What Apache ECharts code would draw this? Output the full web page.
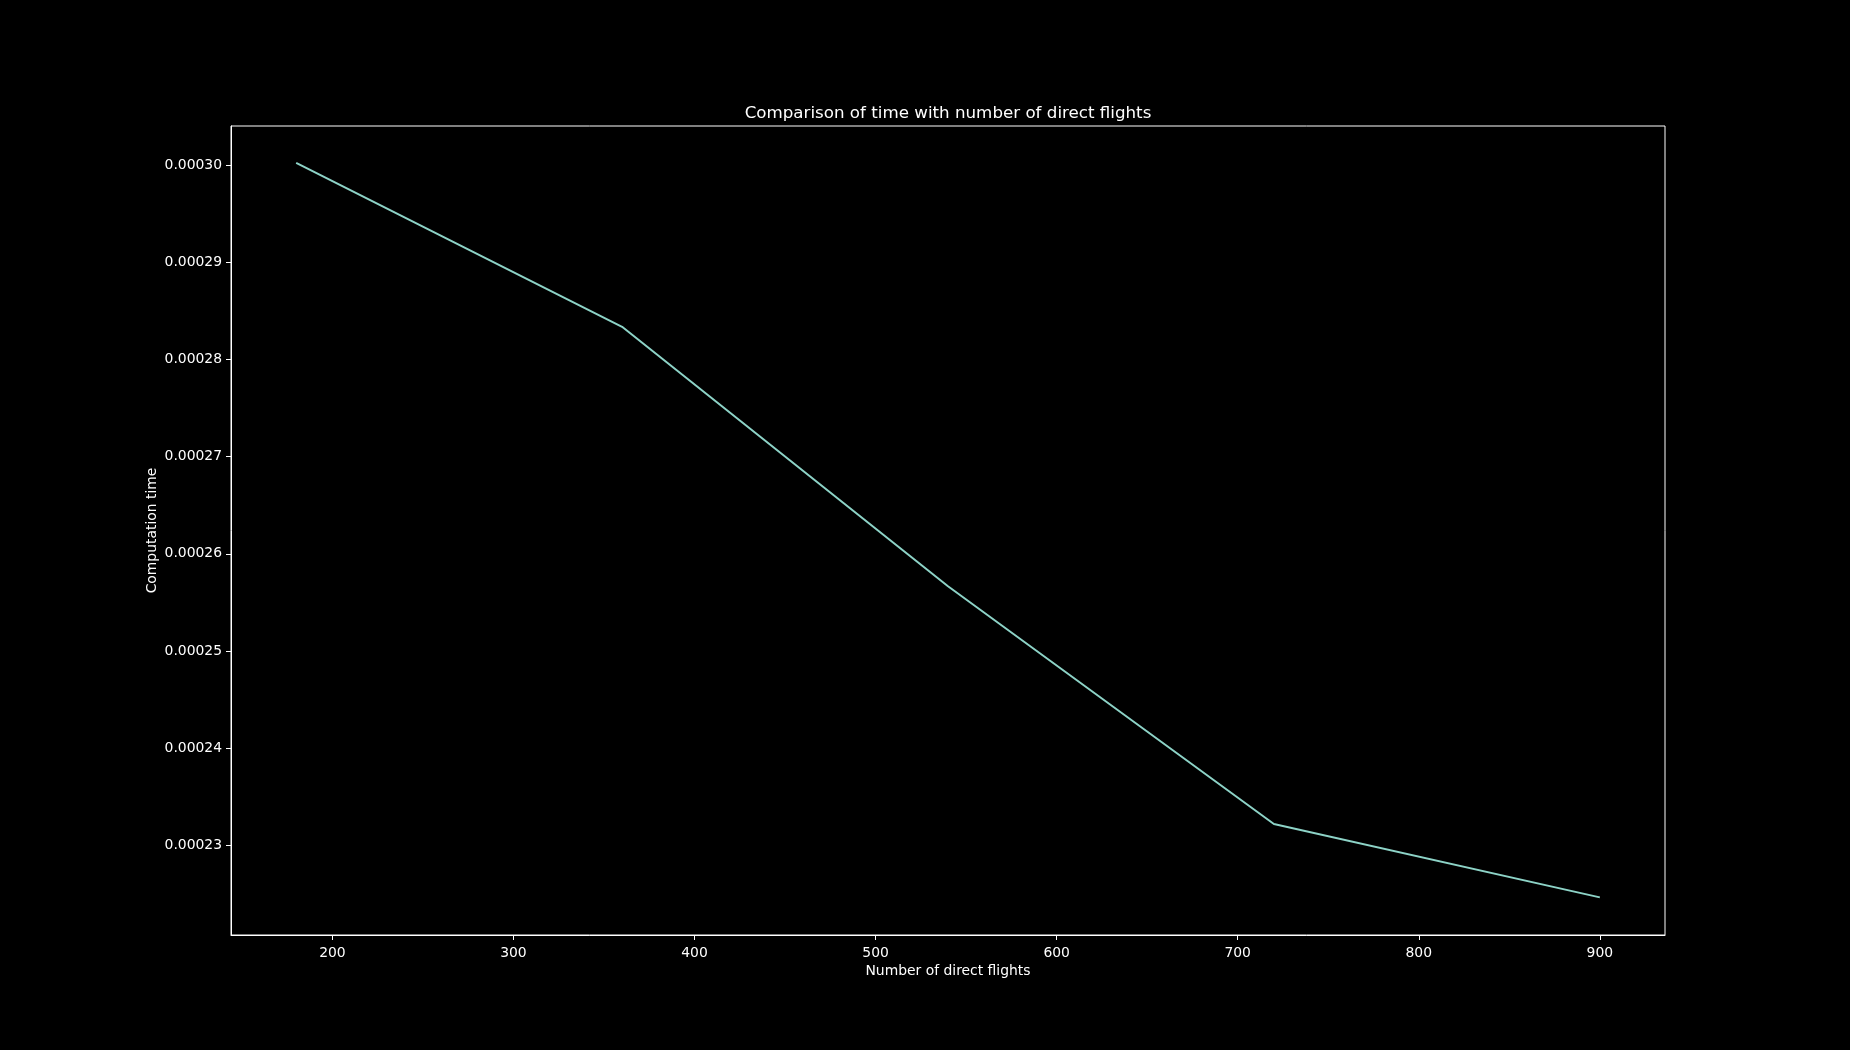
<!DOCTYPE html>
<html>
<head>
<meta charset="utf-8">
<script src="https://cdn.jsdelivr.net/npm/echarts@6/dist/echarts.min.js"></script>
<style>
html,body{margin:0;padding:0;background:#000;}
#chart{width:1850px;height:1050px;}
</style>
</head>
<body>
<div id="chart"></div>
<script>
const flights = [180, 360, 540, 720, 900];
const times = [0.0003002, 0.00028335, 0.00025666, 0.00023221, 0.00022467];
const xTicks = [200, 300, 400, 500, 600, 700, 800, 900];
const yTicks = [0.00023, 0.00024, 0.00025, 0.00026, 0.00027, 0.00028, 0.00029, 0.00030];

const font = 'DejaVu Sans';
const chart = echarts.init(document.getElementById('chart'), null, {renderer: 'canvas'});
chart.setOption({
  backgroundColor: '#000000',
  animation: false,
  title: {
    text: 'Comparison of time with number of direct flights',
    left: 943, top: 100, textAlign: 'center',
    textStyle: {color: '#ffffff', fontFamily: font, fontSize: 16.7, fontWeight: 'normal'}
  },
  grid: {
    left: 231, top: 126, right: 185, bottom: 115,
    show: true, borderColor: '#ffffff', borderWidth: 1, backgroundColor: 'transparent',
    containLabel: false
  },
  xAxis: {
    type: 'value', min: 144, max: 936,
    name: 'Number of direct flights', nameLocation: 'middle', nameGap: 29, nameMoveOverlap: false,
    nameTextStyle: {color: '#ffffff', fontFamily: font, fontSize: 13.9},
    axisLine: {show: true, lineStyle: {color: '#ffffff', width: 1}},
    axisTick: {show: true, inside: false, length: 5, customValues: xTicks, lineStyle: {color: '#ffffff', width: 1}},
    axisLabel: {color: '#ffffff', fontFamily: font, fontSize: 13.9, margin: 11, customValues: xTicks},
    splitLine: {show: false}
  },
  yAxis: {
    type: 'value', min: 0.0002208, max: 0.000304,
    name: 'Computation time', nameLocation: 'middle', nameGap: 72, nameRotate: 90, nameMoveOverlap: false,
    nameTextStyle: {color: '#ffffff', fontFamily: font, fontSize: 13.9},
    axisLine: {show: true, lineStyle: {color: '#ffffff', width: 1}},
    axisTick: {show: true, inside: false, length: 5, customValues: yTicks, lineStyle: {color: '#ffffff', width: 1}},
    axisLabel: {color: '#ffffff', fontFamily: font, fontSize: 13.9, margin: 9, customValues: yTicks,
      formatter: v => v.toFixed(5)},
    splitLine: {show: false}
  },
  series: [{
    type: 'line',
    data: flights.map((f, i) => [f, times[i]]),
    showSymbol: false,
    symbol: 'none',
    lineStyle: {color: '#8dd3c7', width: 2},
    itemStyle: {color: '#8dd3c7'}
  }]
});
</script>
</body>
</html>
